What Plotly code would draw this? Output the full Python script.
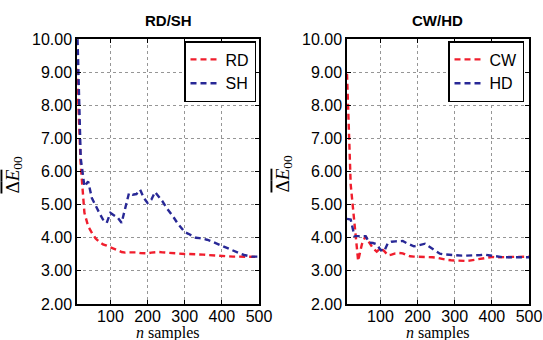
import plotly.graph_objects as go

# sample counts (n)
n_samples = list(range(10, 501, 10))

# mean colour difference per method
rd = [9.10, 6.20, 4.75, 4.35, 4.15, 3.98, 3.88, 3.80, 3.76, 3.72,
      3.68, 3.62, 3.57, 3.55, 3.56, 3.57, 3.56, 3.54, 3.53, 3.53,
      3.55, 3.57, 3.57, 3.56, 3.55, 3.54, 3.52, 3.52, 3.51, 3.51,
      3.51, 3.51, 3.51, 3.50, 3.49, 3.48, 3.47, 3.46, 3.45, 3.45,
      3.44, 3.43, 3.43, 3.43, 3.43, 3.43, 3.43, 3.43, 3.42, 3.42]
sh = [10.60, 6.40, 5.55, 5.70, 5.20, 4.95, 4.75, 4.55, 4.45, 4.75,
      4.68, 4.60, 4.45, 4.90, 5.35, 5.30, 5.32, 5.45, 5.20, 5.05,
      5.15, 5.38, 5.25, 5.10, 4.92, 4.78, 4.62, 4.45, 4.30, 4.17,
      4.12, 4.05, 4.00, 3.99, 3.97, 3.94, 3.90, 3.85, 3.80, 3.76,
      3.70, 3.65, 3.60, 3.56, 3.52, 3.48, 3.45, 3.43, 3.43, 3.43]
cw = [8.95, 5.60, 4.45, 3.30, 3.80, 4.05, 3.85, 3.68, 3.58, 3.68,
      3.60, 3.47, 3.49, 3.53, 3.54, 3.53, 3.48, 3.44, 3.43, 3.43,
      3.42, 3.41, 3.41, 3.41, 3.40, 3.37, 3.34, 3.33, 3.32, 3.31,
      3.31, 3.30, 3.30, 3.31, 3.33, 3.35, 3.38, 3.40, 3.41, 3.42,
      3.41, 3.41, 3.41, 3.41, 3.41, 3.41, 3.41, 3.41, 3.42, 3.43]
hd = [4.57, 4.55, 4.05, 4.04, 4.05, 4.05, 3.85, 3.84, 3.80, 3.64,
      3.59, 3.84, 3.88, 3.89, 3.89, 3.90, 3.84, 3.78, 3.74, 3.76,
      3.80, 3.82, 3.74, 3.66, 3.58, 3.52, 3.50, 3.49, 3.47, 3.46,
      3.46, 3.46, 3.46, 3.46, 3.46, 3.47, 3.48, 3.49, 3.47, 3.45,
      3.43, 3.42, 3.41, 3.41, 3.41, 3.41, 3.41, 3.41, 3.41, 3.41]

panel_titles = ["RD/SH", "CW/HD"]
x_ticks = [100, 200, 300, 400, 500]
y_ticks = [2, 3, 4, 5, 6, 7, 8, 9, 10]

RED = "rgb(240,30,45)"
BLUE = "rgb(40,40,150)"
DASH = "6px,4px"
W, H = 543, 340

fig = go.Figure()

def add_line(y, name, color, xa, ya, legend):
    fig.add_trace(go.Scatter(
        x=n_samples, y=y, name=name, mode="lines",
        line=dict(color=color, width=2.4, dash=DASH),
        xaxis=xa, yaxis=ya, legend=legend))

add_line(rd, "RD", RED, "x", "y", "legend")
add_line(sh, "SH", BLUE, "x", "y", "legend")
add_line(cw, "CW", RED, "x2", "y2", "legend2")
add_line(hd, "HD", BLUE, "x2", "y2", "legend2")

tick_font = dict(family="Liberation Sans, Arial, sans-serif", size=16, color="black")
grid = dict(showgrid=True, gridcolor="rgb(150,150,150)", griddash="dot", gridwidth=1)
frame = dict(showline=True, linecolor="black", linewidth=1.5, mirror="ticks",
             ticks="inside", ticklen=4, tickcolor="black", tickwidth=1,
             zeroline=False, tickfont=tick_font, automargin=False)
common_x = dict(range=[10, 500], tickvals=x_ticks, ticktext=[str(t) for t in x_ticks],
                ticklabelstandoff=-3, **grid, **frame)
common_y = dict(range=[2, 10], tickvals=y_ticks, tickformat=".2f", **grid, **frame)

x1 = [77 / W, 259 / W]
x2 = [347 / W, 529 / W]
yd = [36 / H, 301 / H]

legend_style = dict(bgcolor="white", bordercolor="black", borderwidth=1.5,
                    font=dict(family="Liberation Sans, Arial, sans-serif", size=16, color="black"),
                    xanchor="right", yanchor="top", y=(H - 41) / H,
                    tracegroupgap=0, itemwidth=30)

fig.update_layout(
    width=W, height=H,
    margin=dict(l=0, r=0, t=0, b=0),
    paper_bgcolor="white", plot_bgcolor="white",
    xaxis=dict(domain=x1, anchor="y", **common_x),
    yaxis=dict(domain=yd, anchor="x", **common_y),
    xaxis2=dict(domain=x2, anchor="y2", **common_x),
    yaxis2=dict(domain=yd, anchor="x2", **common_y),
    legend=dict(x=256 / W, **legend_style),
    legend2=dict(x=524 / W, **legend_style),
    showlegend=True,
)

serif = dict(family="Liberation Serif, DejaVu Serif, serif", size=16, color="black")
ylabel = "<span style='text-decoration:overline'>Δ<i>E</i></span><sub>00</sub>"

for dom, title in zip([x1, x2], panel_titles):
    cx = (dom[0] + dom[1]) / 2
    fig.add_annotation(x=cx, y=(H - 20) / H, xref="paper", yref="paper",
                       xanchor="center", yanchor="middle",
                       text=f"<b>{title}</b>", showarrow=False,
                       font=dict(family="Liberation Sans, Arial, sans-serif", size=15, color="black"))
    fig.add_annotation(x=cx, y=(H - 333) / H, xref="paper", yref="paper",
                       xanchor="center", yanchor="middle",
                       text="<i>n</i> samples", showarrow=False, font=serif)
    fig.add_annotation(x=dom[0] - 64 / W, y=(yd[0] + yd[1]) / 2 - 3 / H, xref="paper", yref="paper",
                       xanchor="center", yanchor="middle",
                       text=ylabel, showarrow=False, textangle=-90,
                       font=dict(serif, size=19))

fig.write_html("out.html")
